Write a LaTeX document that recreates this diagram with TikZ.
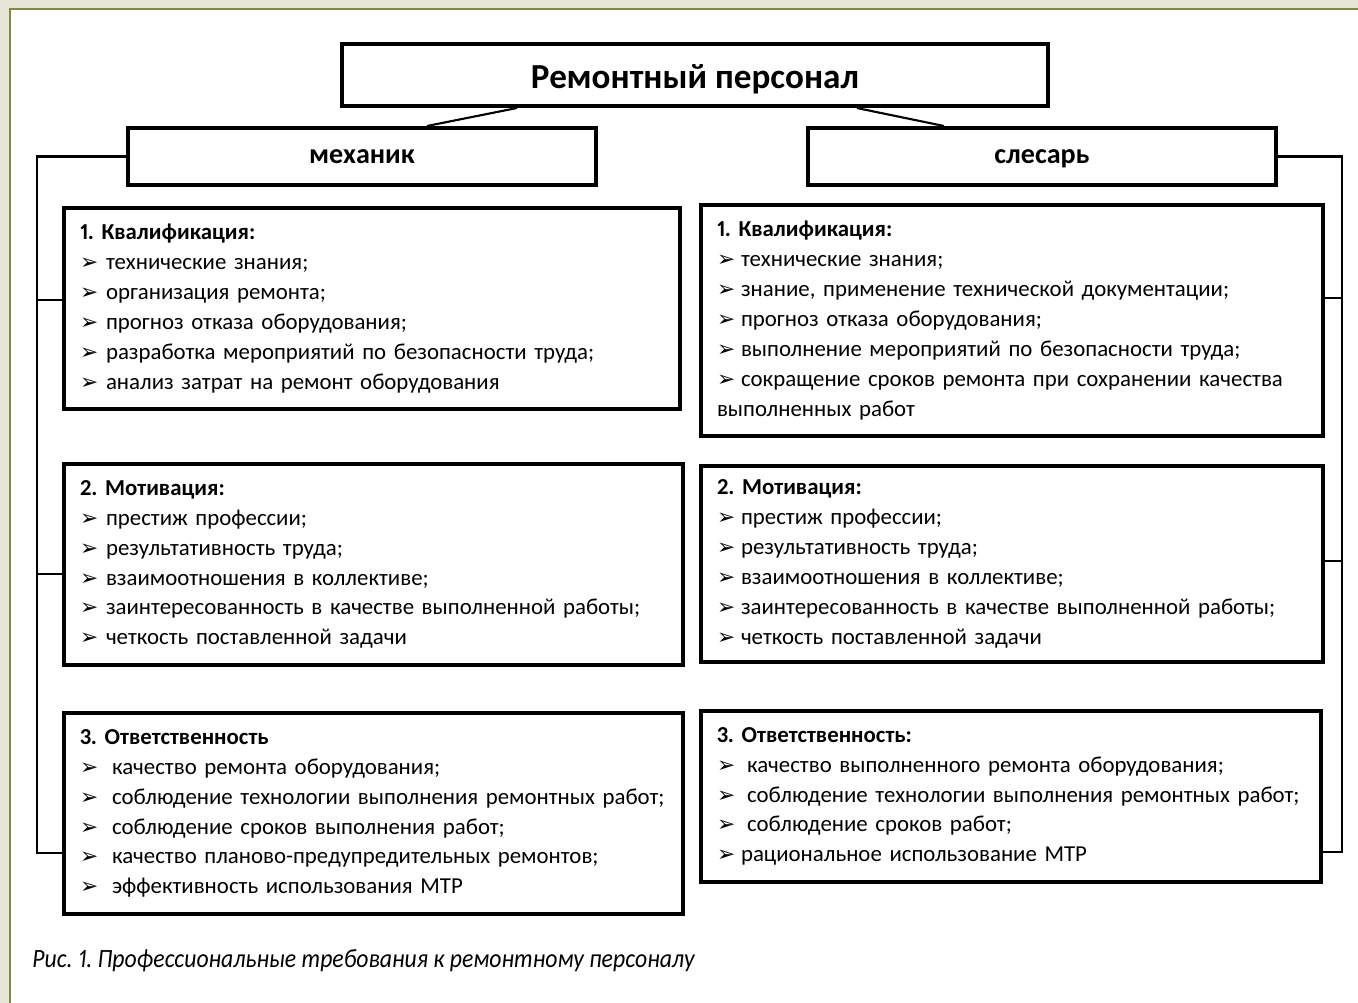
\documentclass[tikz,border=0pt]{standalone}
\usepackage{fontspec}
\setmainfont{Carlito}[Numbers=Proportional]
\newfontfamily\symfont{DejaVu Sans}
\usetikzlibrary{positioning,calc}
\definecolor{pagebg}{HTML}{E6E7D9}
\definecolor{frameol}{HTML}{7C8E3E}
\newcommand{\bul}{{\symfont\scalebox{0.95}{➢}}}
\newcommand{\itm}[2][0.52cm]{\makebox[#1][l]{\bul}#2}

\begin{document}
\begin{tikzpicture}[x=0.02cm,y=-0.02cm,
listbox/.style={draw,line width=2.3pt,anchor=north west,inner xsep=0.32cm,inner ysep=0pt,
  align=left,font=\fontsize{13}{17}\selectfont\frenchspacing},
headbox/.style={draw,line width=2.3pt,anchor=north west,inner sep=0pt,
  text height=8.5pt,text depth=0.8pt,font=\bfseries\fontsize{16}{19}\selectfont},
link/.style={line width=1.2pt}]
\useasboundingbox (0,0) rectangle (1358,1003);
\fill[pagebg] (0,0) rectangle (1358,1003);
\draw[frameol,line width=1.2pt,fill=white] (10,9) rectangle (1380,1020);

% top level
\node (title) [headbox,minimum width=14.12cm,minimum height=1.24cm,text height=16pt,text depth=0.7pt,
    font=\bfseries\fontsize{20}{24}\selectfont] at (340,42) {Ремонтный персонал};
\node (mech) [headbox,minimum width=9.36cm,minimum height=1.14cm] at (126,126) {механик};
\node (fitter) [headbox,minimum width=9.36cm,minimum height=1.14cm] at (806,126) {слесарь};

% mechanic
\node (mqual) [listbox,text width=11.68cm,minimum width=12.32cm,minimum height=4.02cm] at (62,206) {
\textbf{1. Квалификация:}\\
\itm{технические знания;}\\
\itm{организация ремонта;}\\
\itm{прогноз отказа оборудования;}\\
\itm{разработка мероприятий по безопасности труда;}\\
\itm{анализ затрат на ремонт оборудования}};
\node (mmot) [listbox,text width=11.74cm,minimum width=12.38cm,minimum height=4.02cm] at (62,462) {
\textbf{2. Мотивация:}\\
\itm{престиж профессии;}\\
\itm{результативность труда;}\\
\itm{взаимоотношения в коллективе;}\\
\itm{заинтересованность в качестве выполненной работы;}\\
\itm{четкость поставленной задачи}};
\node (mresp) [listbox,text width=11.74cm,minimum width=12.38cm,minimum height=4.02cm] at (62,711) {
\textbf{3. Ответственность}\\
\itm[0.64cm]{качество ремонта оборудования;}\\
\itm[0.64cm]{соблюдение технологии выполнения ремонтных работ;}\\
\itm[0.64cm]{соблюдение сроков выполнения работ;}\\
\itm[0.64cm]{качество планово-предупредительных ремонтов;}\\
\itm[0.64cm]{эффективность использования МТР}};

% fitter
\node (fqual) [listbox,text width=11.8cm,minimum width=12.44cm,minimum height=4.62cm] at (699,203) {
\textbf{1. Квалификация:}\\
\itm[0.48cm]{технические знания;}\\
\itm[0.48cm]{знание, применение технической документации;}\\
\itm[0.48cm]{прогноз отказа оборудования;}\\
\itm[0.48cm]{выполнение мероприятий по безопасности труда;}\\
\itm[0.48cm]{сокращение сроков ремонта при сохранении качества}\\
выполненных работ};
\node (fmot) [listbox,text width=11.8cm,minimum width=12.44cm,minimum height=3.92cm] at (699,464) {
\textbf{2. Мотивация:}\\
\itm[0.48cm]{престиж профессии;}\\
\itm[0.48cm]{результативность труда;}\\
\itm[0.48cm]{взаимоотношения в коллективе;}\\
\itm[0.48cm]{заинтересованность в качестве выполненной работы;}\\
\itm[0.48cm]{четкость поставленной задачи}};
\node (fresp) [listbox,text width=11.76cm,minimum width=12.40cm,minimum height=3.42cm] at (699,709) {
\textbf{3. Ответственность:}\\
\itm[0.6cm]{качество выполненного ремонта оборудования;}\\
\itm[0.6cm]{соблюдение технологии выполнения ремонтных работ;}\\
\itm[0.6cm]{соблюдение сроков работ;}\\
\itm[0.48cm]{рациональное использование МТР}};

% links
\draw[link] ([xshift=-3.56cm]title.south) -- ([xshift=1.3cm]mech.north);
\draw[link] ([xshift=3.24cm]title.south) -- ([xshift=-1.96cm]fitter.north);

\coordinate (lbusT) at (37,154);
\coordinate (lb1) at (37,300);
\coordinate (lb2) at (37,574);
\coordinate (lb3) at (37,853);
\draw[link] (mech.west) -- (mech.west -| lbusT) -- (lb3) -- (lb3 -| mresp.west);
\draw[link] (lb1) -- (lb1 -| mqual.west);
\draw[link] (lb2) -- (lb2 -| mmot.west);

\coordinate (rbusT) at (1342,154);
\coordinate (rb1) at (1342,298);
\coordinate (rb2) at (1342,561);
\coordinate (rb3) at (1342,852);
\draw[link] (fitter.east) -- (fitter.east -| rbusT) -- (rb3) -- (rb3 -| fresp.east);
\draw[link] (rb1) -- (rb1 -| fqual.east);
\draw[link] (rb2) -- (rb2 -| fmot.east);

\node (caption) [anchor=west,inner sep=0pt,font=\itshape\fontsize{15}{18}\selectfont\addfontfeatures{FakeStretch=0.9}\frenchspacing] at (32,961)
  {Рис. 1. Профессиональные требования к ремонтному персоналу};
\end{tikzpicture}
\end{document}
